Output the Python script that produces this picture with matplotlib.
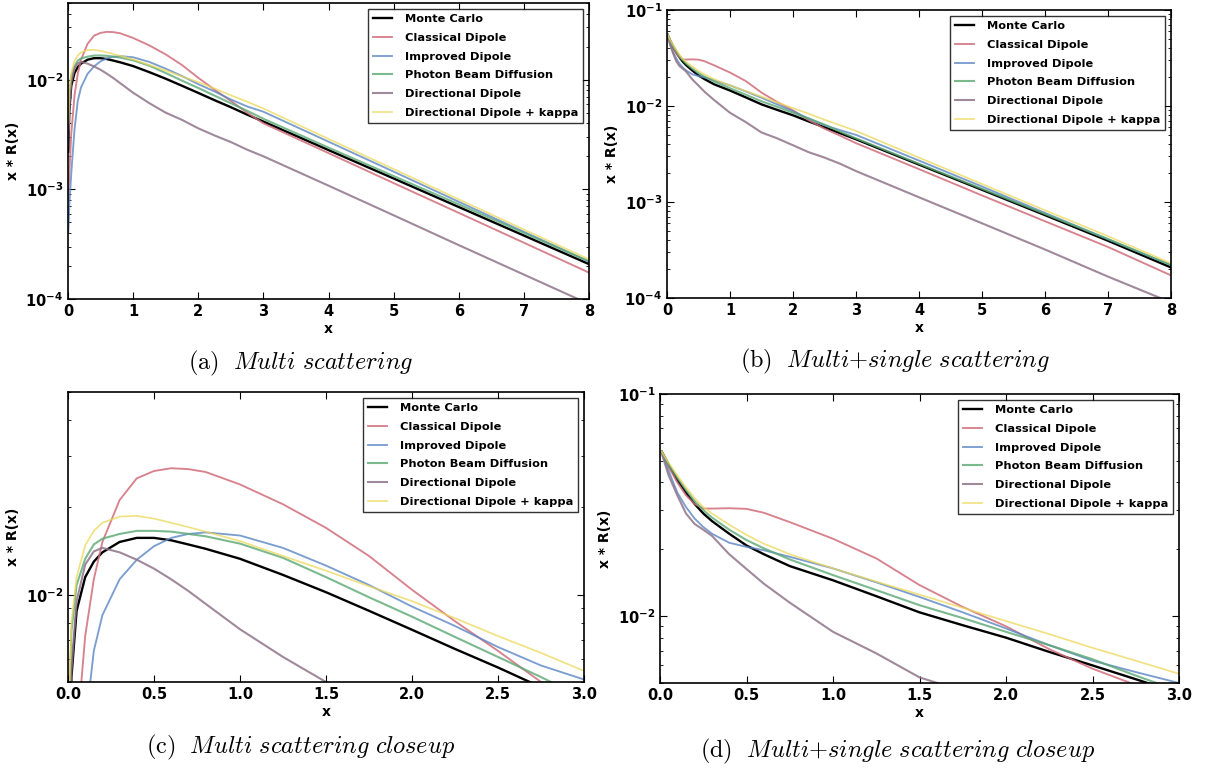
import matplotlib
matplotlib.use("Agg")
import matplotlib.pyplot as plt
from matplotlib.ticker import LogLocator, NullFormatter, MultipleLocator

plt.rcParams['font.family'] = ['DejaVu Sans']
plt.rcParams['font.weight'] = 'bold'
plt.rcParams['axes.labelweight'] = 'bold'

labels = ["Monte Carlo", "Classical Dipole", "Improved Dipole",
          "Photon Beam Diffusion", "Directional Dipole", "Directional Dipole + kappa"]

# ---- multi scattering (panels a, c)
x_multi = [0.005, 0.02, 0.05, 0.1, 0.15, 0.2, 0.3, 0.4, 0.5, 0.6, 0.7, 0.8, 1.0,
           1.25, 1.5, 1.75, 2.0, 2.25, 2.5, 2.75, 3.0, 4.0, 5.0, 6.0, 7.0, 8.0]
mc_multi = [0.0022, 0.0052, 0.0088, 0.0115, 0.0130, 0.0140, 0.0152, 0.0157, 0.0157, 0.0154,
            0.0149, 0.0144, 0.0133, 0.0117, 0.0102, 0.0088, 0.00757, 0.0065, 0.00561, 0.0048,
            0.00415, 0.00228, 0.001256, 0.00069, 0.000379, 0.000208]
classical_multi = [0.0008, 0.0014, 0.0032, 0.0072, 0.0113, 0.0152, 0.0212, 0.0252, 0.0267, 0.0273,
                   0.0271, 0.0265, 0.0240, 0.0205, 0.0170, 0.0136, 0.0104, 0.0081, 0.0064, 0.0050,
                   0.0040, 0.00214, 0.00114, 0.00061, 0.000326, 0.000174]
improved_multi = [0.0004, 0.0007, 0.0014, 0.0035, 0.0064, 0.0085, 0.0113, 0.0132, 0.0147, 0.0157,
                  0.0162, 0.0164, 0.0160, 0.0145, 0.0126, 0.0108, 0.0091, 0.0078, 0.0066, 0.0057,
                  0.0051, 0.00272, 0.00145, 0.00077, 0.00041, 0.00022]
pbd_multi = [0.0035, 0.0075, 0.0108, 0.0133, 0.0149, 0.0156, 0.0162, 0.0166, 0.0166, 0.0165,
             0.0162, 0.0159, 0.0150, 0.0134, 0.0115, 0.0098, 0.0084, 0.00715, 0.0061, 0.0052,
             0.0044, 0.0024, 0.00132, 0.00073, 0.0004, 0.00022]
directional_multi = [0.0025, 0.0055, 0.0095, 0.0127, 0.0141, 0.0145, 0.0140, 0.0132, 0.0123, 0.0113,
                     0.0103, 0.0093, 0.0076, 0.0061, 0.0050, 0.0043, 0.0036, 0.0031, 0.0027, 0.0023,
                     0.0020, 0.00108, 0.00058, 0.00031, 0.000167, 0.00009]
kappa_multi = [0.004, 0.008, 0.0115, 0.0148, 0.0166, 0.0177, 0.0186, 0.0187, 0.0183, 0.0177,
               0.0171, 0.0165, 0.0153, 0.0136, 0.0121, 0.0107, 0.0095, 0.0083, 0.0072, 0.0063,
               0.00546, 0.00288, 0.00153, 0.00081, 0.00043, 0.00023]

# ---- multi + single scattering (panels b, d)
x_single = [0.01, 0.05, 0.1, 0.15, 0.2, 0.25, 0.3, 0.4, 0.5, 0.6, 0.75, 1.0, 1.25, 1.5,
            1.75, 2.0, 2.25, 2.5, 2.75, 3.0, 4.0, 5.0, 6.0, 7.0, 8.0]
mc_single = [0.055, 0.048, 0.041, 0.036, 0.032, 0.029, 0.0268, 0.0235, 0.0208, 0.019, 0.0168,
             0.0145, 0.0123, 0.0104, 0.0091, 0.0080, 0.0069, 0.0060, 0.0052, 0.0045, 0.00245,
             0.00134, 0.00073, 0.000395, 0.000208]
classical_single = [0.055, 0.047, 0.040, 0.035, 0.032, 0.0305, 0.0305, 0.0306, 0.0304, 0.0292,
                    0.0265, 0.0223, 0.0182, 0.0138, 0.0110, 0.0090, 0.0071, 0.0058, 0.0049, 0.0041,
                    0.0022, 0.00117, 0.00063, 0.00034, 0.000172]
improved_single = [0.055, 0.045, 0.036, 0.031, 0.0275, 0.0252, 0.0235, 0.0214, 0.0205, 0.0198,
                   0.0185, 0.0164, 0.0142, 0.0122, 0.0104, 0.0088, 0.0074, 0.0063, 0.0056, 0.0050,
                   0.0027, 0.00145, 0.00077, 0.00041, 0.00022]
pbd_single = [0.055, 0.048, 0.042, 0.037, 0.033, 0.030, 0.0278, 0.0245, 0.022, 0.0202, 0.0180,
              0.0153, 0.0131, 0.0112, 0.0098, 0.0085, 0.0074, 0.0064, 0.0054, 0.0046, 0.0025,
              0.00137, 0.00075, 0.00041, 0.00022]
directional_single = [0.054, 0.043, 0.035, 0.029, 0.026, 0.0245, 0.023, 0.019, 0.0163, 0.014,
                      0.0115, 0.0085, 0.0068, 0.0053, 0.0046, 0.0039, 0.0033, 0.0029, 0.0025,
                      0.0021, 0.00112, 0.0006, 0.00032, 0.000167, 0.00009]
kappa_single = [0.055, 0.049, 0.043, 0.038, 0.034, 0.031, 0.029, 0.0258, 0.0232, 0.0212, 0.0190,
                0.0164, 0.0143, 0.0125, 0.0109, 0.0095, 0.0083, 0.0072, 0.0063, 0.0055, 0.0029,
                0.00154, 0.00082, 0.00044, 0.00023]

captions = [r"$\mathrm{(a)}\ \ \mathit{Multi\ scattering}$",
            r"$\mathrm{(b)}\ \ \mathit{Multi{+}single\ scattering}$",
            r"$\mathrm{(c)}\ \ \mathit{Multi\ scattering\ closeup}$",
            r"$\mathrm{(d)}\ \ \mathit{Multi{+}single\ scattering\ closeup}$"]

colors = ['black', '#d06c78', '#5b86c4', '#5aa873', '#8f7488', '#ecd85a']
alphas = [1.0, 0.85, 0.8, 0.8, 0.85, 0.75]
widths = [1.7, 1.35, 1.35, 1.5, 1.5, 1.25]

multi = [mc_multi, classical_multi, improved_multi, pbd_multi, directional_multi, kappa_multi]
single = [mc_single, classical_single, improved_single, pbd_single, directional_single, kappa_single]

fig = plt.figure(figsize=(12.07, 7.73), dpi=100)
W, H = 1207.0, 773.0

def make_axes(l, r, t, b):
    return fig.add_axes([l / W, 1 - b / H, (r - l) / W, (b - t) / H])

panels = [
    (make_axes(68, 589, 3, 299), x_multi, multi, (0, 8), (1e-4, 0.05), 1),
    (make_axes(667, 1171, 10, 298), x_single, single, (0, 8), (1e-4, 0.1), 1),
    (make_axes(68, 584, 392, 682), x_multi, multi, (0, 3), (0.005, 0.05), 0.5),
    (make_axes(660, 1179, 394, 683), x_single, single, (0, 3), (0.005, 0.1), 0.5),
]

for ax, xs, ys, xl, yl, step in panels:
    for y, lab, c, a, w in zip(ys, labels, colors, alphas, widths):
        ax.plot(xs, y, color=c, alpha=a, lw=w, label=lab)
    ax.set_yscale('log')
    ax.set_xlim(*xl)
    ax.set_ylim(*yl)
    ax.xaxis.set_major_locator(MultipleLocator(step))
    if step == 0.5:
        ax.set_xticks([0, 0.5, 1.0, 1.5, 2.0, 2.5, 3.0])
        ax.set_xticklabels(["0.0", "0.5", "1.0", "1.5", "2.0", "2.5", "3.0"])
    ax.yaxis.set_major_locator(LogLocator(base=10))
    ax.yaxis.set_minor_locator(LogLocator(base=10, subs=range(2, 10)))
    ax.yaxis.set_minor_formatter(NullFormatter())
    ax.tick_params(which='both', direction='in', top=True, right=True, labelsize=10.5)
    ax.tick_params(which='major', length=5)
    ax.tick_params(which='minor', length=2.5)
    for sp in ax.spines.values():
        sp.set_linewidth(1.2)
    ax.set_xlabel("x", fontsize=10, fontweight='bold', labelpad=2)
    ax.set_ylabel("x * R(x)", fontsize=10, fontweight='bold', labelpad=4)
    leg = ax.legend(loc='upper right', fontsize=8.2, frameon=True, fancybox=False,
                    borderaxespad=0.5, handlelength=1.7, labelspacing=0.78,
                    borderpad=0.45, handletextpad=1.1)
    leg.get_frame().set_edgecolor('black')
    leg.get_frame().set_linewidth(1.0)
    for t in leg.get_texts():
        t.set_fontweight('bold')

cap_pos = [(301, 363), (895, 361), (301, 747), (898, 751)]
for (cx, cy), cap in zip(cap_pos, captions):
    fig.text(cx / W, 1 - cy / H, cap, ha='center', va='center', fontsize=17.5,
             math_fontfamily='cm')

fig.savefig("out.png", dpi=100)
